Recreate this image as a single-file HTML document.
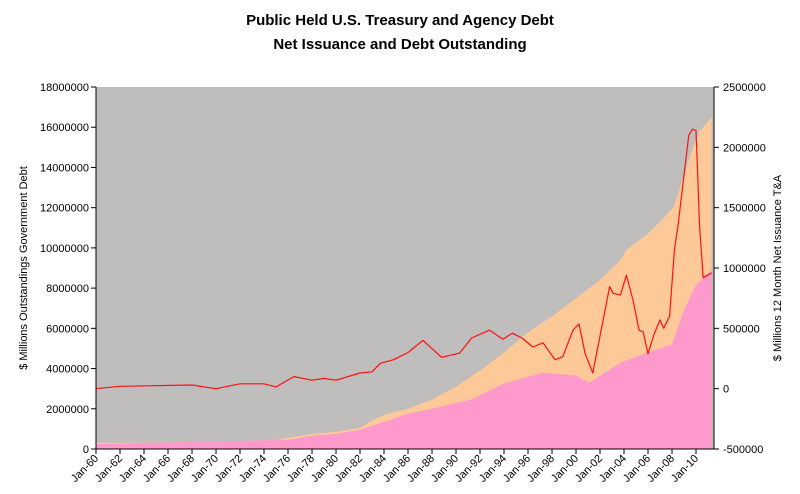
<!DOCTYPE html>
<html><head><meta charset="utf-8"><style>
body{margin:0;background:#fff;}
svg{display:block;font-family:"Liberation Sans",Arial,sans-serif;}
</style></head><body>
<svg id="c" width="800" height="494">
<text x="400" y="25" text-anchor="middle" font-size="15" font-weight="bold">Public Held U.S. Treasury and Agency Debt</text>
<text x="400" y="49" text-anchor="middle" font-size="15" font-weight="bold">Net Issuance and Debt Outstanding</text>
<g id="plot"></g>
</svg>
<script>
const totalYears=[1960,1970,1975,1978,1980,1982,1983,1984,1986,1988,1990,1992,1994,1996,1998,2000,2002,2003.7,2004.2,2005.9,2007,2008.1,2008.9,2009.75,2010.3,2011.3];
const totalDebt=[0.3,0.35,0.45,0.75,0.85,1.05,1.4,1.7,2.0,2.45,3.1,3.9,4.8,5.8,6.6,7.5,8.4,9.4,9.9,10.65,11.3,12.0,13.4,15.0,15.8,16.5];
const govYears=[1960,1976,1978,1980,1982,1984,1986,1988,1990,1991.2,1994,1996,1997.25,2000,2001.1,2003.75,2006,2008,2009,2010,2011.3];
const govDebt=[0.25,0.45,0.65,0.75,0.95,1.35,1.75,2.0,2.3,2.44,3.25,3.6,3.8,3.65,3.3,4.3,4.8,5.2,6.9,8.15,8.9];
const netYears=[1960,1962,1968,1970,1972,1974,1975,1976.5,1978,1979,1980,1982,1983,1983.7,1984.8,1986,1987.25,1988.8,1990.3,1991.3,1992.8,1993.9,1994.7,1995.5,1996.4,1997.25,1998.25,1998.9,1999.75,2000.25,2000.75,2001.4,2002.8,2003.1,2003.7,2004.2,2004.75,2005.25,2005.6,2006,2006.5,2007,2007.3,2007.8,2008.2,2008.5,2009,2009.4,2009.7,2010,2010.3,2010.6,2011.3];
const netIssuance=[0,20,30,0,40,40,15,100,70,85,70,130,140,210,240,300,400,260,295,420,485,410,460,420,345,380,240,265,485,535,295,130,845,790,775,940,735,485,470,290,450,570,500,600,1150,1350,1770,2100,2150,2140,1340,920,960];
const leftTicks=[0,2000000,4000000,6000000,8000000,10000000,12000000,14000000,16000000,18000000];
const rightTicks=[-500000,0,500000,1000000,1500000,2000000,2500000];
const xTickYears=[1960,1962,1964,1966,1968,1970,1972,1974,1976,1978,1980,1982,1984,1986,1988,1990,1992,1994,1996,1998,2000,2002,2004,2006,2008,2010];

const L=96,R=714,T=87,B=449;
const X=y=>L+(y-1960)*12;
const YL=v=>B-(v/18000000)*(B-T);
const YR=v=>B-((v+500000)/3000000)*(B-T);
const NS="http://www.w3.org/2000/svg";
const g=document.getElementById('plot');
function mk(t,a){const e=document.createElementNS(NS,t);for(const k in a)e.setAttribute(k,a[k]);g.appendChild(e);return e;}

let e=mk('rect',{x:L,y:T,width:R-L,height:B-T,fill:'#c0bdbd'});



function area(xs,vs,fill,name){
  let d='M'+X(xs[0])+','+B;
  xs.forEach((x,i)=>d+=' L'+X(x).toFixed(1)+','+YL(vs[i]*1e6).toFixed(1));
  d+=' L'+X(xs[xs.length-1]).toFixed(1)+','+B+' Z';
  const p=mk('path',{d:d,fill:fill});
  
  
}
area(totalYears,totalDebt,'#fdc998','total-debt-area');
area(govYears,govDebt,'#fd99cb','government-debt-area');

let ld='';
netYears.forEach((x,i)=>ld+=(i?' L':'M')+X(x).toFixed(1)+','+YR(netIssuance[i]*1000).toFixed(1));
e=mk('path',{d:ld,fill:'none',stroke:'#ff1010','stroke-width':1.2,'stroke-linejoin':'round'});



e=mk('path',{d:`M${L},${T} V${B} H${R} V${T}`,fill:'none',stroke:'#000','stroke-width':1});



leftTicks.forEach(v=>{
  const y=YL(v);
  mk('line',{x1:L-5,x2:L,y1:y,y2:y,stroke:'#000'});
  const t=mk('text',{x:L-7,y:y+4,'text-anchor':'end','font-size':11});
  t.textContent=v;
  
  
});
rightTicks.forEach(v=>{
  const y=YR(v);
  mk('line',{x1:R,x2:R+5,y1:y,y2:y,stroke:'#000'});
  const t=mk('text',{x:R+9,y:y+4,'text-anchor':'start','font-size':11});
  t.textContent=v;
  
  
});
xTickYears.forEach(yr=>{
  const x=X(yr);
  mk('line',{x1:x,x2:x,y1:B,y2:B+5,stroke:'#000'});
  const t=mk('text',{x:x+3,y:B+10,'text-anchor':'end','font-size':11,transform:`rotate(-45 ${x+3} ${B+10})`});
  t.textContent='Jan-'+String(yr%100).padStart(2,'0');
  
  
});
e=mk('text',{x:27,y:268,'text-anchor':'middle','font-size':11,transform:'rotate(-90 27 268)'});
e.textContent='$ Millions Outstandings Government Debt';


e=mk('text',{x:781,y:268,'text-anchor':'middle','font-size':11,transform:'rotate(-90 781 268)'});
e.textContent='$ Millions 12 Month Net Issuance T&A';


</script>
</body></html>
